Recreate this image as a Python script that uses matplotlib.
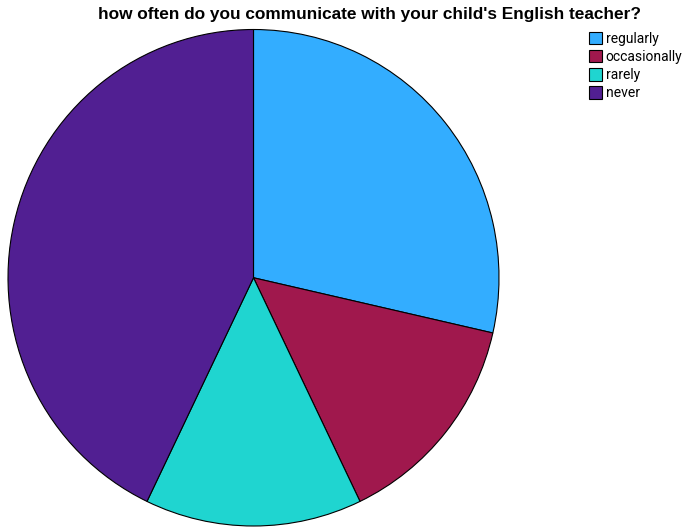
import matplotlib
matplotlib.use("Agg")
import matplotlib.pyplot as plt

categories = ["regularly", "occasionally", "rarely", "never"]
counts = [2, 1, 1, 3]
colors = ["#33ADFF", "#A0184D", "#1FD5D0", "#511F92"]

W, H = 685, 528
fig = plt.figure(figsize=(W / 100, H / 100), dpi=100)
fig.patch.set_facecolor("white")

# pie bounding box in pixels (left, top, right, bottom)
x0, y0, x1, y1 = 8, 29.5, 499, 526
ax = fig.add_axes([x0 / W, (H - y1) / H, (x1 - x0) / W, (y1 - y0) / H])
wedges, _ = ax.pie(counts, colors=colors, startangle=90, counterclock=False,
                   radius=1.0, wedgeprops=dict(edgecolor="black", linewidth=0.8))
ax.set_xlim(-1.0, 1.0)
ax.set_ylim(-1.0, 1.0)
ax.set_aspect("auto")
ax.axis("off")

fig.text(369 / W, 1 - 14 / H, "how often do you communicate with your child's English teacher?",
         ha="center", va="center", fontsize=12.4, fontweight="bold",
         family="Liberation Sans")

leg = fig.legend(wedges, categories, loc="upper left",
                 bbox_to_anchor=(589 / W, 1 - 31.5 / H), frameon=False,
                 handlelength=0.95, handleheight=1.05, handletextpad=0.25,
                 labelspacing=0.28, borderpad=0, borderaxespad=0,
                 prop=dict(family="Roboto", size=10.0))

fig.savefig("out.png", dpi=100)
